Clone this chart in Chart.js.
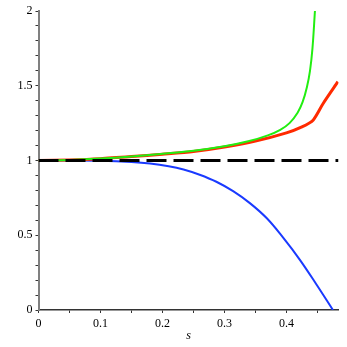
<!DOCTYPE html>
<html>
<head>
<meta charset="utf-8">
<script src="https://cdn.jsdelivr.net/npm/chart.js@4/dist/chart.umd.min.js"></script>
<style>
  html, body { margin: 0; padding: 0; background: #fff; }
  #wrap { width: 347px; height: 347px; }
</style>
</head>
<body>
<div id="wrap"><canvas id="c" width="347" height="347"></canvas></div>
<script>
// ---- data ----
const sGreen = [0, 0.05, 0.1, 0.15, 0.2, 0.25, 0.3, 0.34, 0.37, 0.39, 0.405, 0.418, 0.426, 0.433, 0.438, 0.442, 0.446];
const green  = [1, 1.004, 1.013, 1.027, 1.045, 1.065, 1.095, 1.13, 1.168, 1.205, 1.25, 1.32, 1.39, 1.49, 1.6, 1.75, 2.0];

const sRed = [0, 0.05, 0.1, 0.15, 0.2, 0.25, 0.3, 0.35, 0.4, 0.425, 0.443, 0.459, 0.483];
const red  = [1, 1.004, 1.012, 1.026, 1.042, 1.06, 1.09, 1.13, 1.185, 1.225, 1.27, 1.38, 1.527];

const sBlue = [0, 0.05, 0.1, 0.15, 0.18, 0.21, 0.234, 0.26, 0.287, 0.314, 0.341, 0.368, 0.395, 0.422, 0.449, 0.475];
const blue  = [1, 1, 0.998, 0.99, 0.98, 0.962, 0.94, 0.905, 0.858, 0.795, 0.715, 0.615, 0.482, 0.334, 0.167, 0];

const sRef = [0, 0.484];
const ref  = [1, 1];

const xMax = 0.484;
const yTicksMajor = [0, 0.5, 1, 1.5, 2];

const pts = (xs, ys) => xs.map((x, i) => ({ x: x, y: ys[i] }));
const FONT = "'Liberation Serif', 'DejaVu Serif', serif";

new Chart(document.getElementById('c'), {
  type: 'line',
  data: {
    datasets: [
      { data: pts(sRef, ref), borderColor: '#000000', borderWidth: 3, borderDash: [20, 7], pointRadius: 0, tension: 0 },
      { data: pts(sGreen, green), borderColor: '#22ee11', borderWidth: 2, pointRadius: 0, tension: 0.35 },
      { data: pts(sRed, red), borderColor: '#ff2a00', borderWidth: 3, pointRadius: 0, tension: 0.25 },
      { data: pts(sBlue, blue), borderColor: '#1a3aff', borderWidth: 2, pointRadius: 0, tension: 0.4 }
    ]
  },
  options: {
    responsive: false,
    animation: false,
    events: [],
    layout: { padding: { top: 11, right: 8.5, bottom: 0, left: 0 } },
    plugins: { legend: { display: false }, tooltip: { enabled: false } },
    scales: {
      x: {
        type: 'linear',
        min: 0,
        max: xMax,
        afterFit: (s) => { s.height = 37; },
        border: { color: '#333333', width: 1.5 },
        grid: { drawOnChartArea: false, drawTicks: true, tickLength: 3, color: '#333333' },
        ticks: {
          stepSize: 0.05,
          includeBounds: false,
          autoSkip: false,
          maxRotation: 0,
          padding: 4,
          color: '#000',
          font: { family: FONT, size: 12 },
          callback: (v) => {
            const t = v * 10;
            return Math.abs(t - Math.round(t)) < 1e-6 ? String(Math.round(t) / 10) : '';
          }
        },
        title: {
          display: true,
          text: 's',
          color: '#000',
          font: { family: FONT, size: 12, style: 'italic' },
          padding: { top: 0, bottom: 4 }
        }
      },
      y: {
        type: 'linear',
        min: 0,
        max: 2,
        afterFit: (s) => { s.width = 38.5; },
        border: { color: '#808080', width: 2 },
        grid: { drawOnChartArea: false, drawTicks: true, tickLength: 3, color: '#333333' },
        ticks: {
          stepSize: 0.1,
          autoSkip: false,
          padding: 3,
          color: '#000',
          font: { family: FONT, size: 12 },
          callback: (v) => {
            const m = yTicksMajor.find(t => Math.abs(t - v) < 1e-6);
            return m === undefined ? '' : String(m);
          }
        }
      }
    }
  }
});
</script>
</body>
</html>
